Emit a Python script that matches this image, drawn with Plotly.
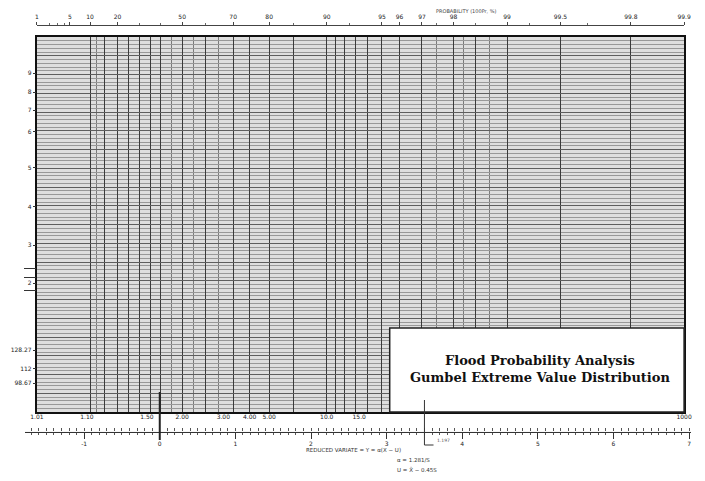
import numpy as np
import plotly.graph_objects as go

# ---------------- data ----------------
# top probability scale (non-exceedance probability, %)
prob_ticks = [1, 5, 10, 20, 50, 70, 80, 90, 95, 96, 97, 98, 99, 99.5, 99.8, 99.9]
prob_tick_text = ["1", "5", "10", "20", "50", "70", "80", "90", "95", "96", "97", "98", "99", "99.5", "99.8", "99.9"]
prob_minor_ticks = [2, 3, 4, 30, 40, 60, 85, 92.5, 97.5, 98.5, 99.25, 99.65]

# vertical rulings of the paper (probability, %)
grid_major_prob = [10, 15, 20, 25, 30, 35, 40, 50, 60, 70, 75, 80, 85, 90, 91, 92, 93, 94,
                   95, 96, 97, 98, 98.5, 99, 99.5, 99.8]
grid_minor_prob = [12, 45, 55, 65, 97.5, 98.25, 98.75]

# return periods printed under the chart (years)
return_periods = [1.0101, 1.10, 1.50, 2.00, 3.00, 4.00, 5.00, 10.0, 15.0, 1000]
return_text = ["1.01", "1.10", "1.50", "2.00", "3.00", "4.00", "5.00", "10.0", "15.0", "1000"]

# reduced variate scale
reduced_major = [-1, 0, 1, 2, 3, 4, 5, 6, 7]
reduced_text = ["-1", "0", "1", "2", "3", "4", "5", "6", "7"]

# left (value) scale of the paper
value_ticks = [90.4, 85.3, 80.5, 74.7, 65.1, 54.7, 44.5, 34.4]
value_text = ["9", "8", "7", "6", "5", "4", "3", "2"]
marked_values = [16.5, 11.5, 7.7]
marked_text = ["128.27", "112", "98.67"]
extra_marks = [38.4, 36.0, 32.5]

value_range = [0, 100]


def gumbel(p_percent):
    p = np.asarray(p_percent, dtype=float) / 100.0
    return -np.log(-np.log(p))


# ---------------- geometry ----------------
W, H = 705, 481
ML, MR, MT, MB = 20, 5, 3, 5
PW, PH = W - ML - MR, H - MT - MB
px_left, px_right, px_top, px_bot = 37, 690, 37, 412


def xd(px):
    return (px - ML) / PW


def yd(py):
    return (H - MB - py) / PH


x_lo, x_hi = float(gumbel(0.9999)), float(gumbel(99.9))
# printed reduced-variate scale: 0 at x=161 px, 76.3 px per unit
red_zero_px, red_unit_px = 161, 76.3
red_lo = (25 - red_zero_px) / red_unit_px
red_hi = (697 - red_zero_px) / red_unit_px

tickfont = dict(family="DejaVu Sans", size=6, color="#222")
small = dict(family="DejaVu Sans", size=5.5, color="#333")

fig = go.Figure()


def anchor_trace(xa, ya, x, y):
    fig.add_trace(go.Scatter(x=[x], y=[y], xaxis=xa, yaxis=ya, mode="markers",
                             marker=dict(opacity=0), hoverinfo="skip", showlegend=False))


anchor_trace("x", "y", 0, 50)
anchor_trace("x2", "y", 0, 50)
anchor_trace("x5", "y", 0, 50)
anchor_trace("x", "y2", 0, 50)
anchor_trace("x", "y3", 0, 50)
anchor_trace("x3", "y5", 0, 0)
anchor_trace("x4", "y5", 0, 0)

layout = dict(
    width=W, height=H,
    margin=dict(l=ML, r=MR, t=MT, b=MB, pad=0),
    paper_bgcolor="white",
    plot_bgcolor="#dedede",
    showlegend=False,
    xaxis=dict(domain=[xd(px_left), xd(px_right)], range=[x_lo, x_hi],
               tickmode="array", tickvals=list(gumbel(grid_major_prob)),
               showticklabels=False, ticks="", showgrid=True,
               gridcolor="#3a3a3a", gridwidth=1,
               minor=dict(tickmode="array", tickvals=list(gumbel(grid_minor_prob)),
                          showgrid=True, gridcolor="#7a7a7a", gridwidth=1, ticks=""),
               showline=True, linecolor="#111", linewidth=2, mirror=True,
               zeroline=False, fixedrange=True),
    yaxis=dict(domain=[yd(px_bot), yd(px_top)], range=value_range,
               tickmode="linear", tick0=0, dtick=5, showticklabels=False, ticks="",
               showgrid=True, gridcolor="#5e5e5e", gridwidth=1,
               minor=dict(dtick=1, showgrid=True, gridcolor="#989898", gridwidth=1, ticks=""),
               showline=True, linecolor="#111", linewidth=2, mirror=True,
               zeroline=False, fixedrange=True),
    xaxis2=dict(overlaying="x", anchor="free", position=yd(25), side="top",
                range=[x_lo, x_hi], tickmode="array",
                tickvals=list(gumbel(prob_ticks)), ticktext=prob_tick_text,
                ticks="outside", ticklen=3, tickcolor="#444", tickwidth=1,
                minor=dict(tickmode="array", tickvals=list(gumbel(prob_minor_ticks)),
                           ticks="outside", ticklen=2, tickcolor="#666"),
                showline=True, linecolor="#444", linewidth=1, ticklabelstandoff=1,
                showgrid=False, zeroline=False, tickfont=tickfont, tickangle=0),
    xaxis5=dict(overlaying="x", anchor="y", side="bottom", range=[x_lo, x_hi],
                tickmode="array", tickvals=list(gumbel([100 * (1 - 1 / t) for t in return_periods])),
                ticktext=return_text, ticks="", showline=False, showgrid=False,
                zeroline=False, tickfont=tickfont, tickangle=0, ticklabelstandoff=0),
    xaxis3=dict(domain=[xd(25), xd(697)], anchor="y5", side="bottom",
                range=[red_lo, red_hi], tickmode="array", tickvals=reduced_major,
                ticktext=reduced_text, ticks="outside", ticklen=6, tickcolor="#333",
                minor=dict(dtick=0.1, tick0=0, ticks="outside", ticklen=2, tickcolor="#555"),
                showline=True, linecolor="#333", linewidth=1, showgrid=False,
                zeroline=False, tickfont=tickfont, ticklabelstandoff=0),
    xaxis4=dict(overlaying="x3", anchor="y5", side="top", range=[red_lo, red_hi],
                tickmode="linear", tick0=0, dtick=0.1, ticks="outside", ticklen=3,
                tickcolor="#555", showticklabels=False, showline=False,
                minor=dict(dtick=0.5, tick0=0, ticks="outside", ticklen=5, tickcolor="#444"),
                showgrid=False, zeroline=False),
    yaxis5=dict(domain=[yd(432), yd(432) + 0.0005], range=[0, 1], visible=False,
                fixedrange=True),
    yaxis2=dict(overlaying="y", side="left", range=value_range, tickmode="array",
                tickvals=value_ticks + marked_values, ticktext=value_text + marked_text,
                ticks="outside", ticklen=3, tickcolor="#333", showgrid=False,
                showline=False, zeroline=False, tickfont=tickfont),
    yaxis3=dict(overlaying="y", side="left", range=value_range, tickmode="array",
                tickvals=extra_marks, ticktext=["", "", ""], ticks="outside",
                ticklen=12, tickcolor="#333", showgrid=False, showline=False,
                zeroline=False),
)
fig.update_layout(**layout)

shapes = [
    dict(type="rect", xref="x domain", yref="y domain",
         x0=(393 - px_left) / (px_right - px_left), x1=1.0, y0=0.0,
         y1=(px_bot - 328) / (px_bot - px_top),
         fillcolor="white", line=dict(color="#222", width=1.5), layer="above"),
    dict(type="line", xref="x3", yref="paper", x0=0, x1=0, y0=yd(440), y1=yd(392),
         line=dict(color="#222", width=2)),
    dict(type="line", xref="x3", yref="paper", x0=3.5, x1=3.5, y0=yd(445), y1=yd(400),
         line=dict(color="#333", width=1)),
    dict(type="line", xref="x3", yref="paper", x0=3.5, x1=3.62, y0=yd(445), y1=yd(445),
         line=dict(color="#333", width=1)),
]
fig.update_layout(shapes=shapes)

serif = dict(family="DejaVu Serif", size=13, color="#111")
ann = [
    dict(text="<b>Flood Probability Analysis</b><br><b>Gumbel Extreme Value Distribution</b>",
         xref="x domain", yref="y domain",
         x=(545 - px_left) / (px_right - px_left), y=(px_bot - 369) / (px_bot - px_top),
         showarrow=False, font=serif, xanchor="center", yanchor="middle", align="center"),
    dict(text="PROBABILITY (100Pr, %)", xref="paper", yref="paper", x=xd(470), y=yd(6),
         showarrow=False, font=dict(family="DejaVu Sans", size=5, color="#444")),
    dict(text="REDUCED VARIATE = Y = α(X − U)", xref="paper", yref="paper", x=xd(307),
         y=yd(455), xanchor="left", showarrow=False, font=small),
    dict(text="α = 1.281/S", xref="paper", yref="paper", x=xd(398), y=yd(465),
         xanchor="left", showarrow=False, font=small),
    dict(text="U = X̄ − 0.45S", xref="paper", yref="paper", x=xd(398), y=yd(475),
         xanchor="left", showarrow=False, font=small),
    dict(text="1.197", xref="x3", yref="paper", x=3.64, y=yd(445), xanchor="left",
         showarrow=False, font=dict(family="DejaVu Sans", size=4.5, color="#555")),
]
fig.update_layout(annotations=ann)

fig.write_html("out.html")
